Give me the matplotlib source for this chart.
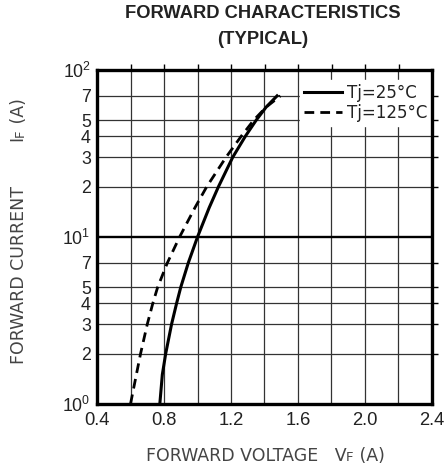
import matplotlib
matplotlib.use("Agg")
import matplotlib.pyplot as plt
from matplotlib.ticker import FixedLocator, NullLocator

plt.rcParams['font.family'] = ['Liberation Sans', 'DejaVu Sans']
plt.rcParams['mathtext.fontset'] = 'custom'
plt.rcParams['mathtext.rm'] = 'Liberation Sans'

# Data
current_25 = [1, 1.5, 2, 3, 4, 5, 7, 10, 15, 20, 30, 40, 50, 60, 70]
voltage_25 = [0.775, 0.79, 0.81, 0.845, 0.875, 0.90, 0.945, 1.0, 1.07, 1.125, 1.21, 1.285, 1.35, 1.41, 1.475]
current_125 = [1, 1.5, 2, 3, 4, 5, 7, 10, 15, 20, 30, 40, 50, 60, 70]
voltage_125 = [0.60, 0.635, 0.66, 0.70, 0.733, 0.762, 0.82, 0.893, 0.985, 1.055, 1.17, 1.26, 1.335, 1.41, 1.495]

x_ticks = [0.4, 0.8, 1.2, 1.6, 2.0, 2.4]
x_tick_labels = ["0.4", "0.8", "1.2", "1.6", "2.0", "2.4"]
x_grid = [0.6, 0.8, 1.0, 1.2, 1.4, 1.6, 1.8, 2.0, 2.2]
y_ticks = [1, 2, 3, 4, 5, 7, 10, 20, 30, 40, 50, 70, 100]
y_tick_labels = [r"$\mathregular{10^{0}}$", "2", "3", "4", "5", "7",
                 r"$\mathregular{10^{1}}$", "2", "3", "4", "5", "7",
                 r"$\mathregular{10^{2}}$"]
y_grid = [2, 3, 4, 5, 7, 20, 30, 40, 50, 70]

W, H = 445, 469
fig = plt.figure(figsize=(W/100, H/100), dpi=100)
ax = fig.add_axes([97/W, 1-404/H, 335/W, 334/H])
ax.set_yscale('log')
ax.set_xlim(0.4, 2.4)
ax.set_ylim(1, 100)

for xv in x_grid:
    ax.axvline(xv, color='#333333', lw=0.9, zorder=1)
for yv in y_grid:
    ax.axhline(yv, color='#333333', lw=0.9, zorder=1)
ax.axhline(10, color='black', lw=1.7, zorder=1)

ax.plot(voltage_25, current_25, color='black', lw=2.2, label='Tj=25°C', zorder=3)
ax.plot(voltage_125, current_125, color='black', lw=2.0, ls=(0, (3.5, 2.2)), label='Tj=125°C', zorder=3)

ax.xaxis.set_major_locator(FixedLocator(x_ticks))
ax.set_xticklabels(x_tick_labels)
ax.xaxis.set_minor_locator(NullLocator())
ax.yaxis.set_major_locator(FixedLocator(y_ticks))
ax.set_yticklabels(y_tick_labels)
ax.yaxis.set_minor_locator(NullLocator())
ax.tick_params(axis='x', which='major', length=0, labelsize=13.2, pad=6, colors='#222222')
ax.tick_params(axis='y', which='major', length=0, labelsize=12.8, pad=4.5, colors='#222222')

for s in ax.spines.values():
    s.set_linewidth(2.4)
    s.set_zorder(5)

# outward ticks on top and right
top = ax.secondary_xaxis('top')
top.xaxis.set_major_locator(FixedLocator(x_grid))
top.tick_params(length=4, width=1, direction='out', labeltop=False)
top.spines['top'].set_visible(False)
right = ax.secondary_yaxis('right')
right.yaxis.set_major_locator(FixedLocator(y_grid))
right.yaxis.set_minor_locator(NullLocator())
right.tick_params(length=4, width=1, direction='out', labelright=False)
right.spines['right'].set_visible(False)

leg = ax.legend(loc='upper right', bbox_to_anchor=(1.0, 1 - 10/334), frameon=True,
                prop={'family': 'DejaVu Sans', 'size': 12}, handlelength=2.3,
                handletextpad=0.3, borderaxespad=0.0, labelspacing=0.1,
                borderpad=0.25, fancybox=False)
leg.get_frame().set_edgecolor('white')
leg.get_frame().set_facecolor('white')
leg.get_frame().set_alpha(1)
leg.set_zorder(4)
for t in leg.get_texts():
    t.set_color('#222222')

fig.text(262.5/W, 1-14/H, "FORWARD CHARACTERISTICS", ha='center', va='center',
         fontsize=13.2, fontweight='bold', color='#222222')
fig.text(262.5/W, 1-39/H, "(TYPICAL)", ha='center', va='center',
         fontsize=13.2, fontweight='bold', color='#222222')

# axis labels built from pieces so that the small "F" sits on the baseline
renderer = fig.canvas.get_renderer()

def label_pieces(cx, cy, pieces, rotation=0):
    texts = []
    for s, size in pieces:
        t = fig.text(0, 0, s, fontsize=size, family='DejaVu Sans', color='#444444',
                     ha='left', va='baseline', rotation=rotation,
                     rotation_mode='anchor')
        texts.append(t)
    lengths = []
    for t in texts:
        bb = t.get_window_extent(renderer)
        lengths.append(bb.width if rotation == 0 else bb.height)
    total = sum(lengths)
    pos = -total / 2
    for t, L in zip(texts, lengths):
        if rotation == 0:
            t.set_position(((cx + pos) / W, 1 - cy / H))
        else:
            t.set_position((cx / W, 1 - (cy - pos) / H))
        pos += L

label_pieces(265, 461, [("FORWARD VOLTAGE   V", 12.5), ("F", 9.5), (" (A)", 12.5)])
label_pieces(24, 231, [("FORWARD CURRENT        I", 12.5), ("F", 9.5), (" (A)", 12.5)], rotation=90)

fig.savefig("out.png", dpi=100)
